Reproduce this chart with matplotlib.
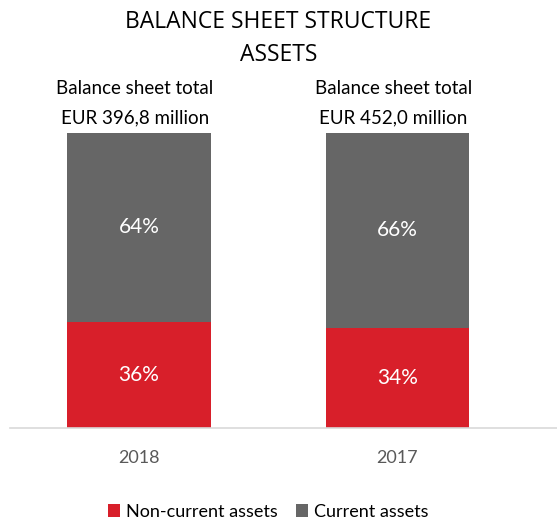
import matplotlib.pyplot as plt
import numpy as np

years = ['2018', '2017']
non_current = [36, 34]
current = [64, 66]
totals = ['EUR 396,8 million', 'EUR 452,0 million']

red = '#d81f2a'
grey = '#666666'

plt.rcParams['font.family'] = ['Lato', 'DejaVu Sans']

fig = plt.figure(figsize=(5.57, 5.23), dpi=100)
ax = fig.add_axes([10 / 557, 1 - 428 / 523, 547 / 557, 295 / 523])

x = np.arange(len(years))
w = 0.557
b1 = ax.bar(x, non_current, w, color=red, label='Non-current assets')
b2 = ax.bar(x, current, w, bottom=non_current, color=grey, label='Current assets')

for i in range(len(years)):
    ax.text(x[i], non_current[i] / 2, f'{non_current[i]}%', ha='center', va='center',
            color='white', fontsize=15)
    ax.text(x[i], non_current[i] + current[i] / 2, f'{current[i]}%', ha='center', va='center',
            color='white', fontsize=15)
    # totals above bars
    ax.text(x[i] - 0.015, 113.2, 'Balance sheet total', ha='center', va='baseline',
            fontsize=13.5)
    ax.text(x[i] - 0.015, 103.4, totals[i], ha='center', va='baseline', fontsize=13.5)

ax.set_xlim(-0.499, 1.617)
ax.set_ylim(0, 100)
ax.set_yticks([])
ax.set_xticks(x)
ax.set_xticklabels(years, fontsize=13, color='#595959')
ax.tick_params(axis='x', length=0, pad=16)
for s in ['top', 'right', 'left']:
    ax.spines[s].set_visible(False)
ax.spines['bottom'].set_color('#d9d9d9')
ax.spines['bottom'].set_linewidth(1.2)

fig.text(0.5, 1 - 22 / 523, 'BALANCE SHEET STRUCTURE', ha='center', va='center',
         fontsize=16.5, family=['Open Sans', 'DejaVu Sans'])
fig.text(0.5, 1 - 55 / 523, 'ASSETS', ha='center', va='center',
         fontsize=16.5, family=['Open Sans', 'DejaVu Sans'])

fig.legend(handles=[b1, b2], loc='center', bbox_to_anchor=(268 / 557, 1 - 512 / 523),
           ncol=2, frameon=False, fontsize=13, handlelength=0.7, handleheight=0.7,
           handletextpad=0.3, columnspacing=1.0)

fig.savefig('out.png', dpi=100)
